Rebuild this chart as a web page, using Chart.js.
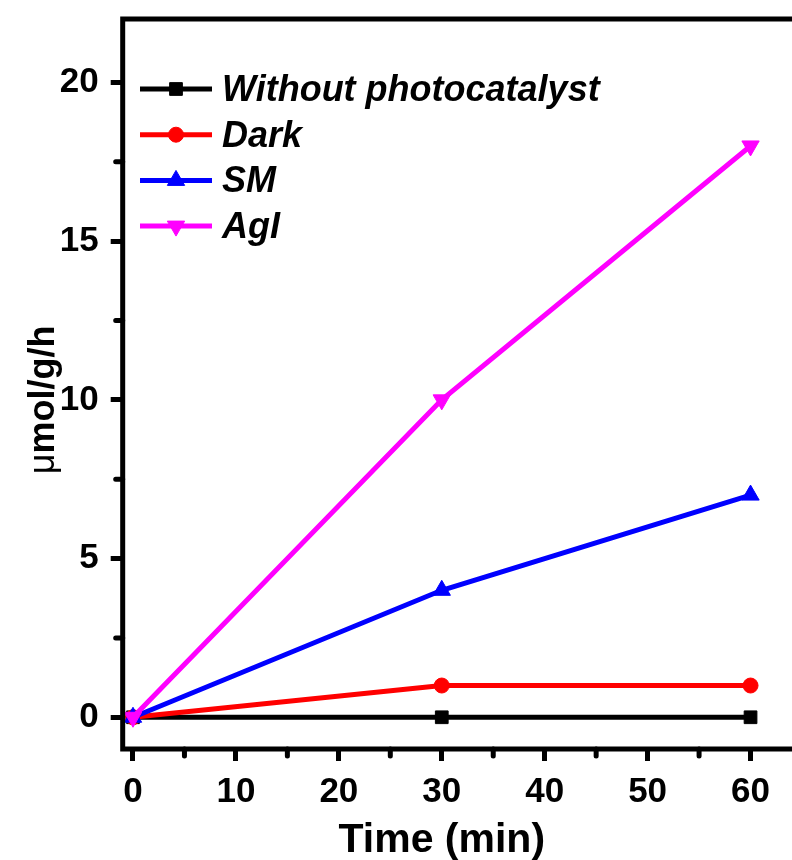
<!DOCTYPE html>
<html>
<head>
<meta charset="utf-8">
<script src="https://cdn.jsdelivr.net/npm/chart.js@4/dist/chart.umd.min.js"></script>
<style>
  html, body { margin: 0; padding: 0; background: #fff; overflow: hidden; }
  #wrap { width: 792px; height: 860px; overflow: hidden; }
</style>
</head>
<body>
<div id="wrap"><canvas id="chart" width="802" height="860"></canvas></div>
<script>
// Data
const timeMin = [0, 30, 60];
const withoutPhotocatalyst = [0, 0, 0];
const dark = [0, 1, 1];
const sm = [0, 4, 7];
const agi = [0, 10, 18];
const seriesLabels = ["Without photocatalyst", "Dark", "SM", "AgI"];

// Tick labels
const xTicks = [0, 10, 20, 30, 40, 50, 60];
const yTicks = [0, 5, 10, 15, 20];
const xMinorTicks = [5, 15, 25, 35, 45, 55];
const yMinorTicks = [2.5, 7.5, 12.5, 17.5];

const FONT = "'Liberation Sans', Arial, sans-serif";

const toPoints = (ys) => ys.map((y, i) => ({ x: timeMin[i], y }));

function series(label, values, color, style, radius, rotation, order) {
  return {
    label,
    data: toPoints(values),
    borderColor: color,
    backgroundColor: color,
    pointBackgroundColor: color,
    pointBorderColor: color,
    borderWidth: 5,
    pointStyle: style,
    pointRadius: radius,
    pointRotation: rotation,
    pointBorderWidth: 1,
    order,
  };
}

const datasets = [
  series(seriesLabels[0], withoutPhotocatalyst, "#000000", "rect", 9, 0, 3),
  series(seriesLabels[1], dark, "#ff0000", "circle", 7.5, 0, 2),
  series(seriesLabels[2], sm, "#0000ff", "triangle", 10, 0, 1),
  series(seriesLabels[3], agi, "#ff00ff", "triangle", 10, 180, 0),
];

// Frame, minor ticks and axis titles.
const frame = {
  id: "frame",
  afterDraw(chart) {
    const { ctx, chartArea: a, scales } = chart;
    ctx.save();
    ctx.strokeStyle = "#000";
    ctx.lineWidth = 5;
    ctx.strokeRect(a.left, a.top, a.right - a.left, a.bottom - a.top);

    ctx.lineCap = "round";
    ctx.beginPath();
    xMinorTicks.forEach((v) => {
      const px = scales.x.getPixelForValue(v);
      ctx.moveTo(px, a.bottom);
      ctx.lineTo(px, a.bottom + 7);
    });
    yMinorTicks.forEach((v) => {
      const py = scales.y.getPixelForValue(v);
      ctx.moveTo(a.left, py);
      ctx.lineTo(a.left - 7, py);
    });
    ctx.stroke();

    // x title
    ctx.fillStyle = "#000";
    ctx.textAlign = "center";
    ctx.textBaseline = "alphabetic";
    ctx.font = "bold 41px " + FONT;
    ctx.fillText("Time (min)", scales.x.getPixelForValue(30), 852);

    // y title, µ in regular weight
    ctx.translate(54, scales.y.getPixelForValue(10));
    ctx.rotate(-Math.PI / 2);
    const mu = "\u03bc";
    const rest = "mol/g/h";
    ctx.font = "36px " + FONT;
    const w1 = ctx.measureText(mu).width;
    ctx.font = "bold 36px " + FONT;
    const w2 = ctx.measureText(rest).width;
    ctx.textAlign = "left";
    const start = -(w1 + w2) / 2;
    ctx.font = "36px " + FONT;
    ctx.fillText(mu, start, 0);
    ctx.font = "bold 36px " + FONT;
    ctx.fillText(rest, start + w1, 0);
    ctx.restore();
  },
};

// Legend inside the plot, line through marker.
const insideLegend = {
  id: "insideLegend",
  afterDatasetsDraw(chart) {
    const ctx = chart.ctx;
    const x0 = 140, x1 = 212, tx = 222, y0 = 89, dy = 45.7;
    chart.data.datasets.forEach((ds, i) => {
      const y = y0 + i * dy;
      ctx.save();
      ctx.strokeStyle = ds.borderColor;
      ctx.lineWidth = ds.borderWidth;
      ctx.beginPath();
      ctx.moveTo(x0, y);
      ctx.lineTo(x1, y);
      ctx.stroke();
      ctx.fillStyle = ds.pointBackgroundColor;
      ctx.strokeStyle = ds.pointBorderColor;
      ctx.lineWidth = 1;
      Chart.helpers.drawPoint(
        ctx,
        { pointStyle: ds.pointStyle, rotation: ds.pointRotation, radius: ds.pointRadius, borderWidth: 1 },
        (x0 + x1) / 2,
        y
      );
      ctx.fillStyle = "#000";
      ctx.font = "italic bold 36px " + FONT;
      ctx.textAlign = "left";
      ctx.textBaseline = "alphabetic";
      ctx.fillText(ds.label, tx, y + 12);
      ctx.restore();
    });
  },
};

const tickFont = { family: FONT, size: 35, weight: "bold" };

new Chart(document.getElementById("chart"), {
  type: "line",
  data: { datasets },
  options: {
    responsive: false,
    animation: false,
    events: [],
    layout: { autoPadding: false, padding: { top: 19, left: 0, right: 0, bottom: 0 } },
    plugins: { legend: { display: false }, tooltip: { enabled: false } },
    scales: {
      x: {
        type: "linear",
        min: -1,
        max: 65,
        afterBuildTicks: (s) => { s.ticks = xTicks.map((v) => ({ value: v })); },
        afterFit: (s) => {
          s.height = 111;
          s.paddingLeft = 0;
          s.paddingRight = 0;
        },
        border: { display: false },
        grid: { drawOnChartArea: false, drawTicks: true, tickLength: 12, tickWidth: 5, tickColor: "#000" },
        ticks: { font: tickFont, color: "#000", padding: 10, maxRotation: 0 },
      },
      y: {
        type: "linear",
        min: -1,
        max: 22,
        afterBuildTicks: (s) => { s.ticks = yTicks.map((v) => ({ value: v })); },
        afterFit: (s) => {
          s.width = 122.7;
          s.paddingTop = 0;
          s.paddingBottom = 0;
        },
        border: { display: false },
        grid: { drawOnChartArea: false, drawTicks: true, tickLength: 12, tickWidth: 5, tickColor: "#000" },
        ticks: { font: tickFont, color: "#000", padding: 12 },
      },
    },
  },
  plugins: [insideLegend, frame],
});
</script>
</body>
</html>
